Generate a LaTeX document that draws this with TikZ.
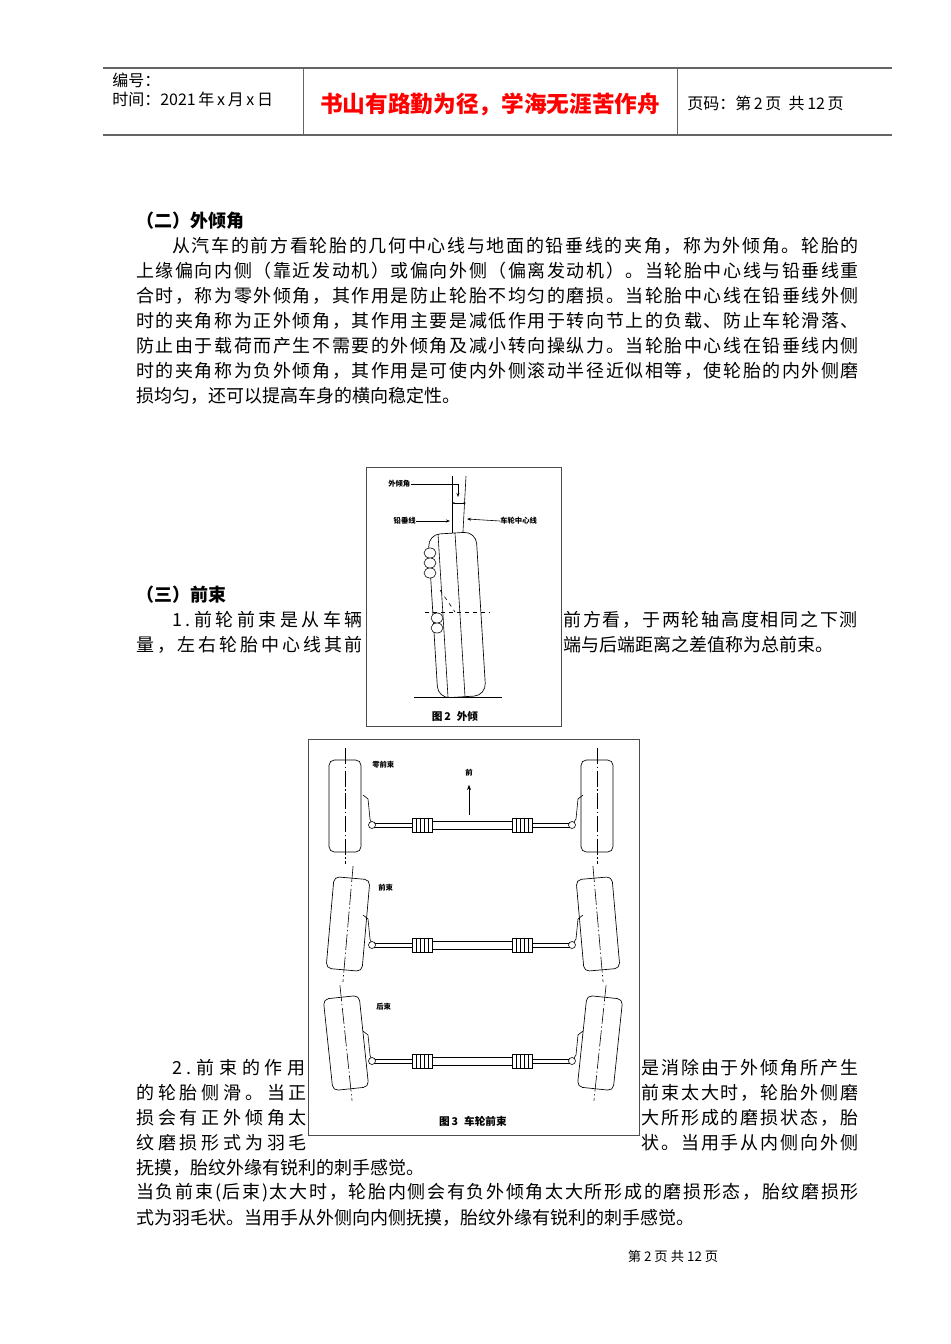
\documentclass[tikz,border=0pt]{standalone}
\usepackage{fontspec}
\setmainfont{Noto Sans CJK SC}
\usetikzlibrary{arrows.meta}
\ExplSyntaxOn
\NewDocumentCommand\spread{mm}{\hbox to #1{\tl_map_inline:nn{#2}{##1\hfil}\unskip}}
\ExplSyntaxOff
\definecolor{rul}{RGB}{100,100,100}
\tikzset{
  body/.style={anchor=west,inner sep=0pt,font=\fontsize{13.5}{14}\selectfont},
  hdr/.style={anchor=west,inner sep=0pt,font=\fontsize{12}{13}\selectfont},
  lab/.style={inner sep=0pt,font=\fontsize{5.5}{6}\selectfont\bfseries},
  figcap/.style={inner sep=0pt,font=\fontsize{8}{9}\selectfont\bfseries},
  fig/.style={draw=black!70,line width=0.6pt},
  ln/.style={line width=0.45pt},
  tyre/.style={draw,line width=0.5pt,rounded corners=4pt,fill=white},
}
\begin{document}
\begin{tikzpicture}[x=0.75pt,y=-0.75pt]
\useasboundingbox (0,0) rectangle (950,1344);
% header
\draw[rul,line width=1pt] (103,68) -- (892,68);
\draw[rul,line width=1.3pt] (103,135) -- (892,135);
\draw[rul,line width=0.6pt] (303,68) -- (303,135) (677,68) -- (677,135);
\node[hdr] (h1) at (112,80) {编号：};
\node[hdr] (h2) at (112,99) {时间：2021\,年\,x\,月\,x\,日};
\node[inner sep=0pt,text=red,font=\fontsize{17}{18}\selectfont\bfseries] (ht) at (490,104) {书山有路勤为径，学海无涯苦作舟};
\node[hdr] (h3) at (687,103) {页码：第\,2\,页\ \ 共\,12\,页};
% section 2
\node[body,font=\fontsize{13.5}{14}\selectfont\bfseries] (s2) at (136,221) {（二）外倾角};
\node[body] (a1) at (172,246) {\spread{515pt}{从汽车的前方看轮胎的几何中心线与地面的铅垂线的夹角，称为外倾角。轮胎的}};
\node[body] (a2) at (136,271) {\spread{542pt}{上缘偏向内侧（靠近发动机）或偏向外侧（偏离发动机）。当轮胎中心线与铅垂线重}};
\node[body] (a3) at (136,296) {\spread{542pt}{合时，称为零外倾角，其作用是防止轮胎不均匀的磨损。当轮胎中心线在铅垂线外侧}};
\node[body] (a4) at (136,321) {\spread{542pt}{时的夹角称为正外倾角，其作用主要是减低作用于转向节上的负载、防止车轮滑落、}};
\node[body] (a5) at (136,346) {\spread{542pt}{防止由于载荷而产生不需要的外倾角及减小转向操纵力。当轮胎中心线在铅垂线内侧}};
\node[body] (a6) at (136,371) {\spread{542pt}{时的夹角称为负外倾角，其作用是可使内外侧滚动半径近似相等，使轮胎的内外侧磨}};
\node[body] (a7) at (136,396) {损均匀，还可以提高车身的横向稳定性。};
% section 3
\node[body,font=\fontsize{13.5}{14}\selectfont\bfseries] (s3) at (136,595) {（三）前束};
\node[body] (b1) at (172,620) {\spread{143pt}{1.前轮前束是从车辆}};
\node[body] (b1r) at (563,620) {\spread{221pt}{前方看，于两轮轴高度相同之下测}};
\node[body] (b2) at (136,645) {\spread{170pt}{量，左右轮胎中心线其前}};
\node[body] (b2r) at (563,645) {端与后端距离之差值称为总前束。};
\node[body] (c1) at (172,1068) {\spread{100pt}{2.前束的作用}};
\node[body] (c1r) at (641,1068) {\spread{163pt}{是消除由于外倾角所产生}};
\node[body] (c2) at (136,1093) {\spread{128pt}{的轮胎侧滑。当正}};
\node[body] (c2r) at (641,1093) {\spread{163pt}{前束太大时，轮胎外侧磨}};
\node[body] (c3) at (136,1118) {\spread{128pt}{损会有正外倾角太}};
\node[body] (c3r) at (641,1118) {\spread{163pt}{大所形成的磨损状态，胎}};
\node[body] (c4) at (136,1143) {\spread{128pt}{纹磨损形式为羽毛}};
\node[body] (c4r) at (641,1143) {\spread{163pt}{状。当用手从内侧向外侧}};
\node[body] (c5) at (136,1168) {抚摸，胎纹外缘有锐利的刺手感觉。};
\node[body] (c6) at (136,1193) {\spread{542pt}{当负前束(后束)太大时，轮胎内侧会有负外倾角太大所形成的磨损形态，胎纹磨损形}};
\node[body] (c7) at (136,1218) {式为羽毛状。当用手从外侧向内侧抚摸，胎纹外缘有锐利的刺手感觉。};
\node[inner sep=0pt,font=\fontsize{10}{11}\selectfont] (ft) at (673,1256) {第\ 2\ 页\ 共\ 12\ 页};
% figure 2
\draw[fig] (366,467) rectangle (561,726);
\node[lab,anchor=west] (l1) at (388,484) {外倾角};
\node[lab,anchor=east] (l2) at (416,521) {铅垂线};
\node[lab,anchor=west] (l3) at (500,521) {车轮中心线};
\draw[ln] (452,476) -- (452,697);
\draw[ln] (466,476) -- (454,697);
\draw[ln,-{Stealth[length=3pt]}] (l1.east) -- (458,484) -- (458,497);
\draw[ln,{Stealth[length=2pt]}-{Stealth[length=2pt]}] (452,503) -- (466,503);
\draw[ln,-{Stealth[length=3pt]}] (l2.east) -- (450,521);
\draw[ln,-{Stealth[length=3pt]}] (l3.west) -- (467,519);
\begin{scope}[shift={(457,615)},rotate=3.5]
\draw[tyre,rounded corners=9pt] (-24,-82) rectangle (24,82);
\draw[ln] (-14,-82) -- (-14,82) (3,-82) -- (3,82);
\end{scope}
\draw[ln] (414,697) -- (502,697);
\draw[ln,fill=white] (430,553) ellipse (6 and 5) (430,563) ellipse (6 and 5) (430,573) ellipse (6 and 5);
\draw[ln,fill=white] (437,618) ellipse (6 and 5) (437,628) ellipse (6 and 5);
\draw[ln,dashed] (425,612) -- (490,612);
\draw[ln,dashed] (440,590) -- (455,612);
\node[figcap] (f2) at (455,716) {图\,2\;\;外倾};
% figure 3
\draw[fig] (308,739) rectangle (639,1135);
\foreach \yy/\lx/\la/\rx/\ra/\ry/\ww in {806/345/0/597/0/825/16, 924/348/-5/598/5/945/18, 1043/346/6/600/-6/1061/18}{
  \begin{scope}[shift={(\lx,\yy)},rotate=\la]
    \draw[tyre] (-\ww,-46) rectangle (\ww,46);
    \draw[ln,dash pattern=on 12pt off 2pt on 1pt off 2pt] (0,-58) -- (0,58);
  \end{scope}
  \begin{scope}[shift={(\rx,\yy)},rotate=\ra]
    \draw[tyre] (-\ww,-46) rectangle (\ww,46);
    \draw[ln,dash pattern=on 12pt off 2pt on 1pt off 2pt] (0,-58) -- (0,58);
  \end{scope}
  \draw[ln] (363,\ry-30) -- (368,\ry-26) -- (370,\ry-6) -- (372,\ry);
  \draw[ln] (583,\ry-30) -- (578,\ry-26) -- (576,\ry-6) -- (572,\ry);
  \draw[ln] (372,\ry-2) -- (412,\ry-2) (372,\ry+2) -- (412,\ry+2);
  \draw[ln] (532,\ry-2) -- (572,\ry-2) (532,\ry+2) -- (572,\ry+2);
  \draw[ln,fill=white] (432,\ry-4) rectangle (512,\ry+4);
  \foreach \bx in {412,512}{
    \draw[ln,fill=white] (\bx,\ry-7) rectangle (\bx+20,\ry+7);
    \foreach \k in {4,8,12,16} \draw[ln] (\bx+\k,\ry-7) -- (\bx+\k,\ry+7);
  }
  \draw[ln,fill=white] (372,\ry) circle (3.5) (572,\ry) circle (3.5);
}
\node[lab,anchor=west] (z0) at (372,765) {零前束};
\node[lab] (fw) at (469,773) {前};
\coordinate (fa) at (469,815);
\draw[ln,-{Stealth[length=4pt]}] (fa) -- ([yshift=-6pt]fw.south);
\node[lab,anchor=west] (z1) at (378,888) {前束};
\node[lab,anchor=west] (z2) at (376,1007) {后束};
\node[figcap] (f3) at (473,1121) {图\,3\;\;车轮前束};
\end{tikzpicture}
\end{document}
